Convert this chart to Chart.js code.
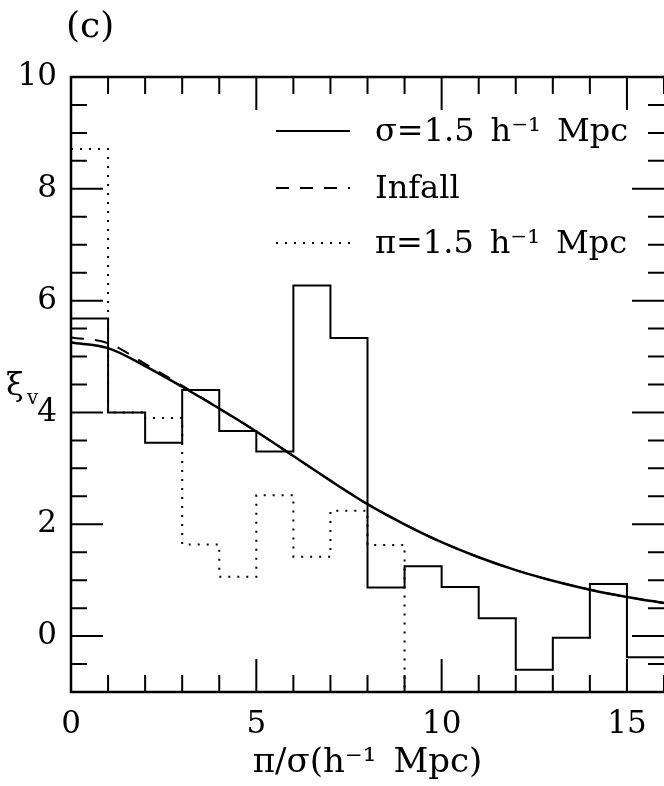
<!DOCTYPE html>
<html>
<head>
<meta charset="utf-8">
<script src="https://cdn.jsdelivr.net/npm/chart.js@4"></script>
<style>
  html, body { margin: 0; padding: 0; background: #fff; }
  #wrap { width: 664px; height: 786px; position: relative; }
</style>
</head>
<body>
<div id="wrap"><canvas id="xiChart"></canvas></div>
<script>
// bin edges in pi/sigma (h^-1 Mpc)
const binEdges = [0, 1, 2, 3, 4, 5, 6, 7, 8, 9, 10, 11, 12, 13, 14, 15, 16];
const sigmaHist = [5.68, 4.0, 3.46, 4.4, 3.67, 3.3, 6.27, 5.33, 0.87, 1.25, 0.88, 0.32, -0.6, -0.03, 0.93, -0.38];
const piHist = [8.71, 4.0, 3.9, 1.64, 1.06, 2.52, 1.42, 2.24, 1.63, -1, -1, -1, -1, -1, -1, -1];

// model curves
const curveX = [0, 1, 2, 3, 4, 5, 6, 7, 8, 9, 10, 11, 12, 13, 14, 15, 16];
const sigmaModel = [5.25, 5.15, 4.83, 4.46, 4.07, 3.66, 3.22, 2.78, 2.36, 2.0, 1.68, 1.41, 1.18, 0.99, 0.83, 0.70, 0.59];
const infallModel = [5.34, 5.24, 4.87, 4.48, 4.07, 3.66, 3.22, 2.78, 2.36, 2.0, 1.68, 1.41, 1.18, 0.99, 0.83, 0.70, 0.59];

const xTickLabels = [0, 5, 10, 15];
const yTickLabels = [0, 2, 4, 6, 8, 10];

const SERIF = "'DejaVu Serif', serif";

// left edge of each bin, plus the right edge of the last one
const stepPoints = (vals) => {
  const pts = vals.map((v, i) => ({ x: binEdges[i], y: v }));
  pts.push({ x: binEdges[vals.length], y: vals[vals.length - 1] });
  return pts;
};
const curvePoints = (vals) => vals.map((v, i) => ({ x: curveX[i], y: v }));

// inward ticks on all four sides + frame, labels drawn by hand
const frameTicks = {
  id: 'frameTicks',
  afterDraw(chart) {
    const { ctx, chartArea: a, scales } = chart;
    const xs = scales.x, ys = scales.y;
    ctx.save();
    ctx.strokeStyle = '#000';
    ctx.lineWidth = 2;
    ctx.beginPath();
    for (let v = 0; v <= 16; v++) {
      const px = xs.getPixelForValue(v);
      const len = v % 5 === 0 ? 33 : 17;
      ctx.moveTo(px, a.bottom); ctx.lineTo(px, a.bottom - len);
      ctx.moveTo(px, a.top); ctx.lineTo(px, a.top + len);
    }
    for (let v = -1; v <= 10; v += 0.5) {
      const py = ys.getPixelForValue(v);
      const len = (v % 2 === 0) ? 32 : 16;
      ctx.moveTo(a.left, py); ctx.lineTo(a.left + len, py);
      ctx.moveTo(a.right, py); ctx.lineTo(a.right - len, py);
    }
    ctx.stroke();
    ctx.lineWidth = 2.5;
    ctx.beginPath();
    ctx.moveTo(a.right + 2, a.top);
    ctx.lineTo(a.left, a.top);
    ctx.lineTo(a.left, a.bottom);
    ctx.lineTo(a.right + 2, a.bottom);
    ctx.stroke();

    // panel label and y title
    ctx.fillStyle = '#000';
    ctx.textBaseline = 'middle';
    ctx.textAlign = 'left';
    ctx.font = '36px ' + SERIF;
    ctx.fillText('(c)', 66, 28);
    ctx.font = '32px ' + SERIF;
    ctx.fillText('ξ', 6, 387);
    ctx.font = '20px ' + SERIF;
    ctx.fillText('v', 27, 399);

    // legend
    const rows = [
      { ds: chart.data.datasets[0], y: 131 },
      { ds: chart.data.datasets[3], y: 188 },
      { ds: chart.data.datasets[1], y: 243 }
    ];
    ctx.font = '32px ' + SERIF;
    rows.forEach(r => {
      ctx.save();
      ctx.lineWidth = 2;
      ctx.setLineDash(r.ds.borderDash || []);
      ctx.beginPath();
      ctx.moveTo(276, r.y); ctx.lineTo(350, r.y);
      ctx.stroke();
      ctx.restore();
      ctx.fillText(r.ds.label, 375, r.y + 2);
    });
    ctx.restore();
  }
};

const ctx = document.getElementById('xiChart').getContext('2d');
new Chart(ctx, {
  type: 'line',
  data: {
    datasets: [
      {
        label: 'σ=1.5\u2002h⁻¹\u2002Mpc',
        data: stepPoints(sigmaHist),
        stepped: 'before',
        borderColor: '#000',
        borderWidth: 2,
        pointRadius: 0
      },
      {
        label: 'π=1.5\u2002h⁻¹\u2002Mpc',
        data: stepPoints(piHist),
        stepped: 'before',
        borderColor: '#000',
        borderWidth: 2,
        borderDash: [2, 7],
        pointRadius: 0
      },
      {
        label: 'model',
        data: curvePoints(sigmaModel),
        cubicInterpolationMode: 'monotone',
        borderColor: '#000',
        borderWidth: 2.5,
        pointRadius: 0
      },
      {
        label: 'Infall',
        data: curvePoints(infallModel),
        cubicInterpolationMode: 'monotone',
        borderColor: '#000',
        borderWidth: 2,
        borderDash: [13, 11],
        pointRadius: 0
      }
    ]
  },
  options: {
    responsive: true,
    maintainAspectRatio: false,
    animation: false,
    layout: { padding: { top: 77, right: 0, bottom: 0, left: 0 } },
    plugins: {
      legend: { display: false },
      tooltip: { enabled: false },
      title: { display: false }
    },
    scales: {
      x: {
        type: 'linear', min: 0, max: 16,
        grid: { display: false, drawTicks: false },
        border: { display: false },
        afterBuildTicks: s => { s.ticks = xTickLabels.map(v => ({ value: v })); },
        afterFit: s => { s.height = 94; },
        ticks: { color: '#000', font: { family: SERIF, size: 31 }, padding: 14, maxRotation: 0 },
        title: {
          display: true, text: 'π/σ(h⁻¹\u2002Mpc)', color: '#000',
          font: { family: SERIF, size: 34 }, padding: { top: 0, bottom: 2 }
        }
      },
      y: {
        type: 'linear', min: -1, max: 10,
        grid: { display: false, drawTicks: false },
        border: { display: false },
        afterBuildTicks: s => { s.ticks = yTickLabels.map(v => ({ value: v })); },
        afterFit: s => { s.width = 71; },
        ticks: { color: '#000', font: { family: SERIF, size: 31 }, padding: 14 }
      }
    }
  },
  plugins: [frameTicks]
});
</script>
</body>
</html>
